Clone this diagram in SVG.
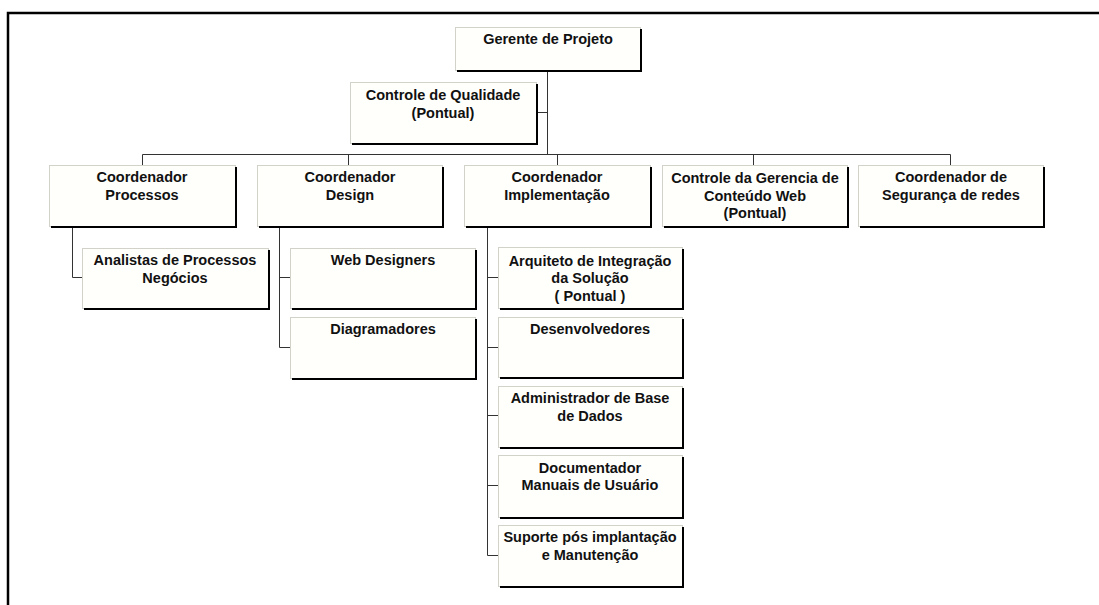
<svg xmlns="http://www.w3.org/2000/svg" width="1099" height="605" viewBox="0 0 1099 605">
<style>
.box{fill:#fffffc;stroke:#d2d2ca;stroke-width:1}
.sh{fill:none;stroke:#000;stroke-width:2}
.t{font-family:"Liberation Sans",Arial,Helvetica,sans-serif;font-weight:bold;font-size:14.5px;fill:#111;text-anchor:middle}
.c{fill:none;stroke:#333;stroke-width:1}
</style>
<rect x="0" y="0" width="1099" height="605" fill="#fff"/>
<path d="M8 605 V13 H1099" fill="none" stroke="#000" stroke-width="2.5"/>
<g id="connectors">
<path class="c" d="M547.5 70 V154.5"/>
<path class="c" d="M536 112.5 H547.5"/>
<path class="c" d="M142.5 165 V154.5 H950.5 V165"/>
<path class="c" d="M348.5 154.5 V165 M557.5 154.5 V165 M753.5 154.5 V165"/>
<path class="c" d="M72.5 226 V277.5 H82"/>
<path class="c" d="M279.5 226 V347.5 H290 M279.5 277.5 H290"/>
<path class="c" d="M487.5 226 V555.5 H498 M487.5 277.5 H498 M487.5 347.5 H498 M487.5 415.5 H498 M487.5 485.5 H498"/>
</g>
<g id="gerente"><rect class="box" x="455.5" y="27.5" width="185" height="43"/><path class="sh" d="M641 29 V71 H457"/><text class="t" x="548" y="44">Gerente de Projeto</text></g>
<g id="qualidade"><rect class="box" x="350.5" y="82.5" width="186" height="61"/><path class="sh" d="M537 84 V144 H352"/><text class="t" x="443" y="100">Controle de Qualidade</text><text class="t" x="443" y="118">(Pontual)</text></g>
<g id="processos"><rect class="box" x="49.5" y="165.5" width="186" height="61"/><path class="sh" d="M236 167 V227 H51"/><text class="t" x="142" y="182">Coordenador</text><text class="t" x="142" y="199.5">Processos</text></g>
<g id="design"><rect class="box" x="257.5" y="165.5" width="185" height="61"/><path class="sh" d="M443 167 V227 H259"/><text class="t" x="350" y="182">Coordenador</text><text class="t" x="350" y="199.5">Design</text></g>
<g id="implementacao"><rect class="box" x="464.5" y="165.5" width="186" height="61"/><path class="sh" d="M651 167 V227 H466"/><text class="t" x="557" y="182">Coordenador</text><text class="t" x="557" y="199.5">Implementação</text></g>
<g id="gerencia"><rect class="box" x="662.5" y="165.5" width="185" height="61"/><path class="sh" d="M848 167 V227 H664"/><text class="t" x="755" y="183">Controle da Gerencia de</text><text class="t" x="755" y="200.5">Conteúdo Web</text><text class="t" x="755" y="218">(Pontual)</text></g>
<g id="seguranca"><rect class="box" x="858.5" y="165.5" width="185" height="61"/><path class="sh" d="M1044 167 V227 H860"/><text class="t" x="951" y="182">Coordenador de</text><text class="t" x="951" y="199.5">Segurança de redes</text></g>
<g id="analistas"><rect class="box" x="82.5" y="248.5" width="186" height="60"/><path class="sh" d="M269 250 V309 H84"/><text class="t" x="175" y="265">Analistas de Processos</text><text class="t" x="175" y="283">Negócios</text></g>
<g id="webdesigners"><rect class="box" x="290.5" y="248.5" width="185" height="60"/><path class="sh" d="M476 250 V309 H292"/><text class="t" x="383" y="265">Web Designers</text></g>
<g id="diagramadores"><rect class="box" x="290.5" y="317.5" width="185" height="61"/><path class="sh" d="M476 319 V379 H292"/><text class="t" x="383" y="334">Diagramadores</text></g>
<g id="arquiteto"><rect class="box" x="498.5" y="247.5" width="184" height="61"/><path class="sh" d="M683 249 V309 H500"/><text class="t" x="590" y="265.5">Arquiteto de Integração</text><text class="t" x="590" y="283">da Solução</text><text class="t" x="590" y="300.5">( Pontual )</text></g>
<g id="desenvolvedores"><rect class="box" x="498.5" y="317.5" width="184" height="60"/><path class="sh" d="M683 319 V378 H500"/><text class="t" x="590" y="334">Desenvolvedores</text></g>
<g id="admin"><rect class="box" x="498.5" y="386.5" width="184" height="61"/><path class="sh" d="M683 388 V448 H500"/><text class="t" x="590" y="403">Administrador de Base</text><text class="t" x="590" y="421">de Dados</text></g>
<g id="documentador"><rect class="box" x="498.5" y="455.5" width="184" height="62"/><path class="sh" d="M683 457 V518 H500"/><text class="t" x="590" y="472.5">Documentador</text><text class="t" x="590" y="490">Manuais de Usuário</text></g>
<g id="suporte"><rect class="box" x="498.5" y="525.5" width="184" height="61"/><path class="sh" d="M683 527 V587 H500"/><text class="t" x="590" y="542">Suporte pós implantação</text><text class="t" x="590" y="560">e Manutenção</text></g>
</svg>
